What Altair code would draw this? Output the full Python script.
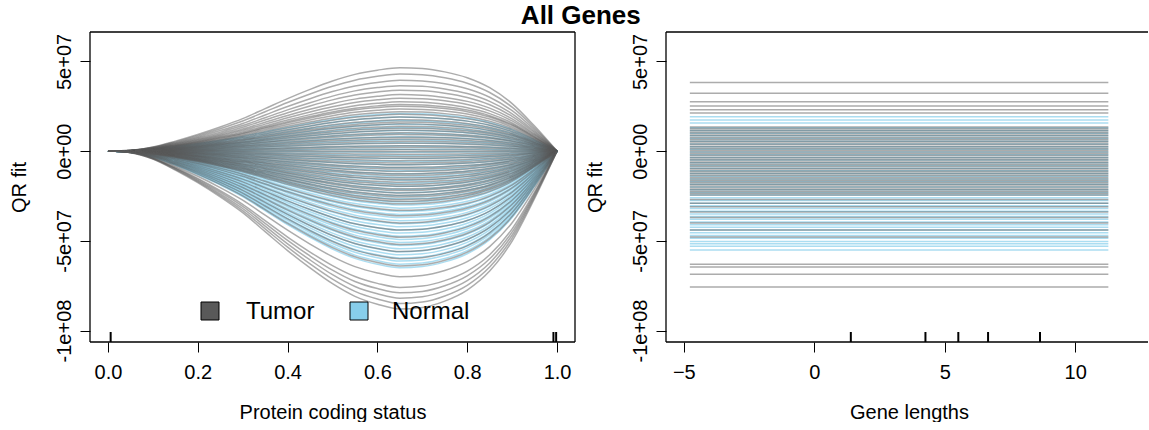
import altair as alt
import pandas as pd

# ---------------- data ----------------
# common fitted curve profile (left panel), normalised to the peak value
shape_x = [0.0, 0.05, 0.1, 0.15, 0.2, 0.25, 0.3, 0.35, 0.4, 0.45, 0.5,
           0.55, 0.6, 0.65, 0.7, 0.75, 0.8, 0.85, 0.9, 0.95, 1.0]
shape_y = [0.0, 0.01, 0.05, 0.12, 0.2, 0.29, 0.39, 0.51, 0.63, 0.74, 0.84,
           0.92, 0.97, 1.0, 0.99, 0.95, 0.88, 0.76, 0.57, 0.3, 0.0]

# peak value of each fitted curve (x 1e7), left panel
tumor_peak = [4.65, 4.3, 3.95, 3.65, 3.4, 3.15, 2.95, 2.75, 2.6, 2.5, 2.35, 2.2,
              2.05, 1.9, 1.75, 1.62, 1.52, 1.38, 1.27, 1.16, 1.02, 0.92, 0.78,
              0.68, 0.55, 0.44, 0.3, 0.2, 0.07, -0.04, -0.17, -0.3, -0.4, -0.53,
              -0.66, -0.76, -0.9, -1.0, -1.13, -1.26, -1.36, -1.5, -1.6, -1.73,
              -1.86, -1.96, -2.1, -2.2, -2.33, -2.46, -2.56, -2.7, -2.8, -2.94,
              -3.3, -3.6, -4.0, -4.4, -4.8, -5.2, -5.6, -6.0, -6.4, -7.0, -7.6,
              -7.9, -8.2, -8.5, -8.8]
normal_peak = [2.1, 1.9, 1.7, 1.5, 1.32, 1.15, 0.98, 0.8, 0.63, 0.46, 0.28,
               0.11, -0.06, -0.24, -0.41, -0.58, -0.76, -0.93, -1.1, -1.28,
               -1.45, -1.62, -1.8, -1.97, -2.14, -2.32, -2.49, -2.66, -2.84,
               -3.01, -3.18, -3.36, -3.53, -3.7, -3.88, -4.05, -4.22, -4.4,
               -4.57, -4.74, -4.92, -5.09, -5.26, -5.44, -5.61, -5.78, -5.96,
               -6.13, -6.3, -6.5]

# constant fitted levels (x 1e7), right panel
tumor_level = [3.82, 3.22, 2.75, 2.51, 2.3, 2.12, 1.35, 1.25, 1.15, 1.05, 0.95,
               0.85, 0.75, 0.65, 0.55, 0.45, 0.35, 0.25, 0.15, 0.05, -0.05,
               -0.15, -0.25, -0.35, -0.45, -0.55, -0.65, -0.75, -0.85, -0.95,
               -1.05, -1.15, -1.25, -1.35, -1.45, -1.55, -1.65, -1.75, -1.85,
               -1.95, -2.05, -2.15, -2.25, -2.35, -2.45, -2.7, -2.9, -3.1, -3.4,
               -3.7, -4.0, -4.4, -4.79, -6.31, -6.46, -6.87, -7.57]
normal_level = [1.91, 1.74, 1.57, 1.3, 1.15, 1.0, 0.85, 0.7, 0.55, 0.4, 0.25,
                0.1, -0.05, -0.2, -0.35, -0.5, -0.65, -0.8, -0.95, -1.1, -1.25,
                -1.4, -1.55, -1.7, -1.85, -2.0, -2.15, -2.3, -2.45, -2.6, -2.75,
                -2.9, -3.05, -3.2, -3.35, -3.5, -3.65, -3.8, -3.95, -4.1, -4.25,
                -4.4, -4.55, -4.7, -4.85, -5.04, -5.17, -5.3, -5.51]
level_x_start = -4.77
level_x_end = 11.27

left_rug = [0.006, 0.992, 0.998]
right_rug = [1.4, 4.26, 5.52, 6.66, 8.65]

groups = ["Tumor", "Normal"]
group_colors = ["#595959", "#87CEEB"]
group_opacity = [0.5, 0.7]

y_ticks = [5e7, 0, -5e7, -1e8]
y_tick_labels = ["5e+07", "0e+00", "-5e+07", "-1e+08"]
left_x_ticks = [0.0, 0.2, 0.4, 0.6, 0.8, 1.0]
right_x_ticks = [-5, 0, 5, 10]

# ---------------- tables (Tumor and Normal fits drawn interleaved) ----------------
curve_rows = []
level_rows = []
n_curves = max(len(tumor_peak), len(normal_peak))
for i in range(n_curves):
    for grp, peaks in (("Normal", normal_peak), ("Tumor", tumor_peak)):
        if i < len(peaks):
            for sx, sy in zip(shape_x, shape_y):
                curve_rows.append({"group": grp, "curve": f"{i:03d}{grp}",
                                   "x": sx, "y": peaks[i] * 1e7 * sy})
n_levels = max(len(tumor_level), len(normal_level))
for i in range(n_levels):
    for grp, levels in (("Normal", normal_level), ("Tumor", tumor_level)):
        if i < len(levels):
            level_rows.append({"group": grp, "x": level_x_start,
                               "x2": level_x_end, "y": levels[i] * 1e7})
curves = pd.DataFrame(curve_rows)
levels_df = pd.DataFrame(level_rows)

FONT = "Liberation Sans"
W_L, W_R, H = 485, 490, 310
BOX = 1.3
y_dom = [-1.064e8, 6.64e7]

y_label_expr = " : ".join(
    f"datum.value == {v} ? '{t}'" for v, t in zip(y_ticks, y_tick_labels)
) + " : ''"

color_scale = alt.Scale(domain=groups, range=group_colors)
opacity_scale = alt.Scale(domain=groups, range=group_opacity)
one_row = pd.DataFrame({"k": [0]})


def y_axis():
    return alt.Axis(values=y_ticks, labelExpr=y_label_expr, title="QR fit",
                    labelAngle=270, labelAlign="center", labelBaseline="middle",
                    labelPadding=16, tickSize=10, titleX=-71, titleY=H / 2,
                    titleAngle=270, titleAlign="center", titleBaseline="middle")


def frame(width, sides):
    """Plot box drawn as rules (the right panel's right edge lies off-page)."""
    segs = {
        "top": dict(x=alt.value(0), x2=alt.value(width), y=alt.value(0)),
        "bottom": dict(x=alt.value(0), x2=alt.value(width), y=alt.value(H)),
        "left": dict(x=alt.value(0), y=alt.value(0), y2=alt.value(H)),
        "right": dict(x=alt.value(width), y=alt.value(0), y2=alt.value(H)),
    }
    return [alt.Chart(one_row).mark_rule(color="black", strokeWidth=BOX)
            .encode(**segs[s]) for s in sides]


y_enc = alt.Y("y:Q", scale=alt.Scale(domain=y_dom, nice=False, zero=False),
              axis=y_axis())

# ---------------- left panel ----------------
left_lines = alt.Chart(curves).mark_line(
    strokeWidth=1.5, interpolate="monotone", clip=True
).encode(
    x=alt.X("x:Q", scale=alt.Scale(domain=[-0.04, 1.04], nice=False, zero=False),
            axis=alt.Axis(values=left_x_ticks, format=".1f",
                          title="Protein coding status", tickSize=10,
                          labelBaseline="middle", labelPadding=20,
                          titleX=W_L / 2, titleY=70, titleBaseline="middle")),
    y=y_enc,
    color=alt.Color("group:N", scale=color_scale, legend=None),
    opacity=alt.Opacity("group:N", scale=opacity_scale, legend=None),
    detail="curve:N",
)

left_rug_layer = alt.Chart(pd.DataFrame({"x": left_rug})).mark_rule(
    color="black", strokeWidth=2
).encode(x="x:Q", y=alt.value(H - 10), y2=alt.value(H))

# manual legend (inside the left panel, near the bottom)
legend_layers = []
for label, col, sq_x, tx_x in ((groups[0], group_colors[0], 120, 156),
                               (groups[1], group_colors[1], 269, 302)):
    ldf = pd.DataFrame({"label": [label]})
    legend_layers.append(
        alt.Chart(ldf).mark_square(size=324, stroke="black", strokeWidth=1,
                                   opacity=1, fill=col)
        .encode(x=alt.value(sq_x), y=alt.value(279)))
    legend_layers.append(
        alt.Chart(ldf).mark_text(font=FONT, fontSize=24, align="left",
                                 baseline="middle", color="black")
        .encode(x=alt.value(tx_x), y=alt.value(280), text="label:N"))

left = alt.layer(left_lines, left_rug_layer, *legend_layers,
                 *frame(W_L, ["top", "bottom", "left", "right"])).properties(
    width=W_L, height=H)

# ---------------- right panel ----------------
right_lines = alt.Chart(levels_df).mark_rule(strokeWidth=1.5).encode(
    x=alt.X("x:Q", scale=alt.Scale(domain=[-5.684, 12.79], nice=False, zero=False),
            axis=alt.Axis(values=right_x_ticks, format="d",
                          title="Gene lengths", tickSize=10,
                          labelBaseline="middle", labelPadding=20,
                          titleX=243, titleY=70, titleBaseline="middle")),
    x2="x2:Q",
    y=y_enc,
    color=alt.Color("group:N", scale=color_scale, legend=None),
    opacity=alt.Opacity("group:N", scale=opacity_scale, legend=None),
)

right_rug_layer = alt.Chart(pd.DataFrame({"x": right_rug})).mark_rule(
    color="black", strokeWidth=2
).encode(x="x:Q", y=alt.value(H - 10), y2=alt.value(H))

right = alt.layer(right_lines, right_rug_layer,
                  *frame(482, ["top", "bottom", "left"])).properties(
    width=482, height=H)

chart = alt.hconcat(left, right, spacing=91, bounds="flush").properties(
    title=alt.TitleParams("All Genes", font=FONT, fontSize=26, fontWeight="bold",
                          anchor="middle", dx=2, offset=2, color="black"),
    padding={"left": 9, "top": 3, "right": 0, "bottom": 0},
).configure_view(
    strokeWidth=0
).configure_axis(
    labelFont=FONT, titleFont=FONT, labelFontSize=20, titleFontSize=20,
    titleFontWeight="normal", labelColor="black", titleColor="black",
    tickColor="black", tickWidth=1, grid=False, domain=False
)

chart.save("out.html", embed_options={"renderer": "svg", "actions": False})
